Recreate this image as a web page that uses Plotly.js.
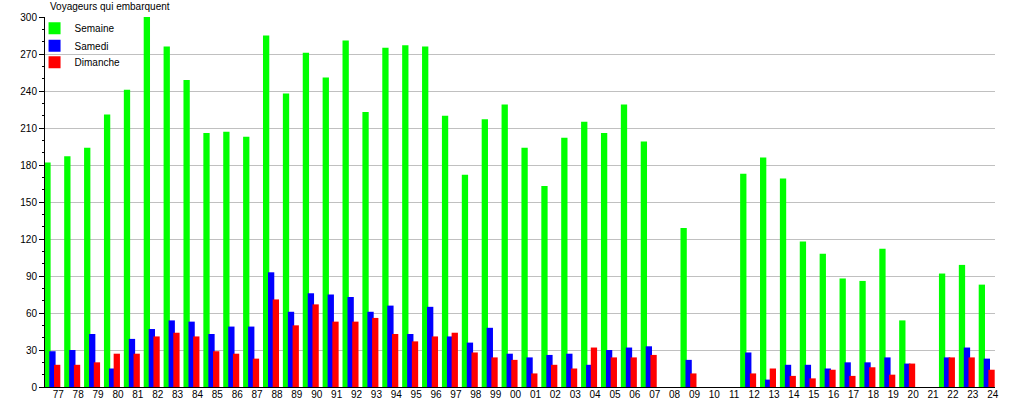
<!DOCTYPE html>
<html>
<head>
<meta charset="utf-8">
<script src="https://cdn.plot.ly/plotly-3.0.1.min.js"></script>
<style>
html,body{margin:0;padding:0;background:#fff;}
#chart{width:1015px;height:400px;}
</style>
</head>
<body>
<div id="chart"></div>
<script>
var years = ['77','78','79','80','81','82','83','84','85','86','87','88','89','90','91','92','93','94','95','96','97','98','99','00','01','02','03','04','05','06','07','08','09','10','11','12','13','14','15','16','17','18','19','20','21','22','23','24'];
var semaine = [182,187,194,221,241,300,276,249,206,207,203,285,238,271,251,281,223,275,277,276,220,172,217,229,194,163,202,215,206,229,199,null,129,null,null,173,186,169,118,108,88,86,112,54,null,92,99,83];
var samedi = [29,30,43,15,39,47,54,53,43,49,49,93,61,76,75,73,61,66,43,65,41,36,48,27,24,26,27,18,30,32,33,null,22,null,null,28,6,18,18,15,20,20,24,19,null,24,32,23];
var dimanche = [18,18,20,27,27,41,44,41,29,27,23,71,50,67,53,53,56,43,37,41,44,28,24,22,11,18,15,32,24,24,26,null,11,null,null,11,15,9,7,14,9,16,10,19,null,24,24,14];
var seriesNames = ['Semaine','Samedi','Dimanche'];
var yTicks = [0,30,60,90,120,150,180,210,240,270,300];

var W = 0.317;
function bar(name, vals, color, off, leg){
  return {type:'bar', name:name, x:years, y:vals, marker:{color:color, line:{width:0}},
          width:W, offset:off, legend:leg, hoverinfo:'x+y+name'};
}
var data = [
  bar(seriesNames[0], semaine, '#00ff00', -0.704, 'legend'),
  bar(seriesNames[1], samedi, '#0000ff', -0.453, 'legend2'),
  bar(seriesNames[2], dimanche, '#ff0000', -0.216, 'legend3')
];
function leg(yc){
  return {x:-0.011, xanchor:'left', y:(387-yc)/370, yanchor:'middle', bgcolor:'rgba(0,0,0,0)',
          borderwidth:0, font:{size:10, color:'#000'}, itemclick:false, itemdoubleclick:false};
}
var layout = {
  width:1015, height:400,
  margin:{l:45, r:20, t:17, b:13, pad:0},
  paper_bgcolor:'#fff', plot_bgcolor:'#fff',
  font:{family:'"Liberation Sans", Arial, sans-serif', size:10, color:'#000'},
  barmode:'overlay',
  showlegend:true,
  title:{text:'Voyageurs qui embarquent', x:50/1015, xref:'container', xanchor:'left',
         y:1-6/400, yref:'container', yanchor:'middle', font:{size:10, color:'#000'}},
  xaxis:{type:'category', range:[-0.669, 47.116], showgrid:false, zeroline:false,
         showline:true, linecolor:'#000', linewidth:1, ticks:'', ticklen:0,
         tickfont:{size:10}, tickangle:0, ticklabelstandoff:-2, fixedrange:true},
  yaxis:{range:[0,300], tickvals:yTicks, ticktext:yTicks.map(String), showgrid:true, gridcolor:'#c0c0c0', gridwidth:1,
         zeroline:false, showline:true, linecolor:'#000', linewidth:1,
         ticks:'outside', ticklen:5, tickcolor:'#000', tickwidth:1,
         minor:{dtick:10, tick0:0, ticks:'outside', ticklen:2, tickcolor:'#000', showgrid:false},
         tickfont:{size:10}, fixedrange:true},
  legend:leg(28.3),
  legend2:leg(45.7),
  legend3:leg(62.3)
};
Plotly.newPlot('chart', data, layout, {displayModeBar:false, staticPlot:true});
</script>
</body>
</html>
